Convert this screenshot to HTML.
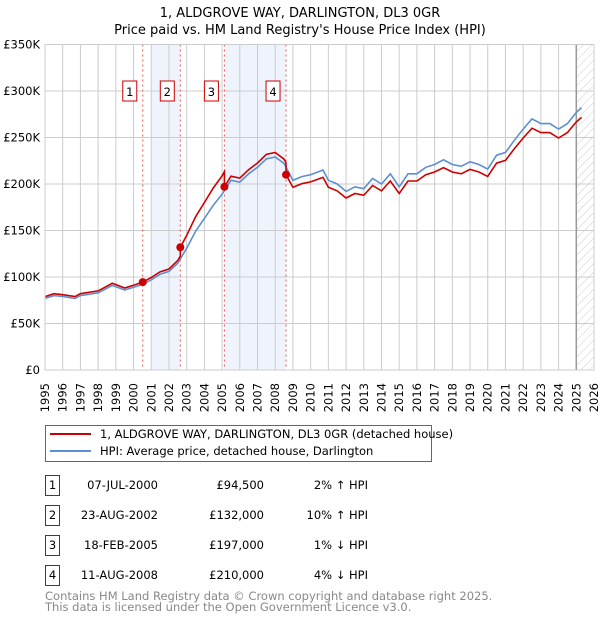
<!DOCTYPE html>
<html><head><meta charset="utf-8"><style>
body{margin:0;background:#fff;font-family:"Liberation Sans","DejaVu Sans",sans-serif;}
svg text{font-family:"DejaVu Sans","Liberation Sans",sans-serif;}
</style></head><body>
<svg id="chart" width="600" height="620" xmlns="http://www.w3.org/2000/svg">
<text x="300" y="17" text-anchor="middle" font-size="13">1, ALDGROVE WAY, DARLINGTON, DL3 0GR</text>
<text x="300" y="34" text-anchor="middle" font-size="13">Price paid vs. HM Land Registry's House Price Index (HPI)</text>
<g id="plot"></g>
<g>
<rect x="45.5" y="425.5" width="386" height="36" fill="#fff" stroke="#666"/>
<line x1="50" y1="434" x2="91" y2="434" stroke="#cc0000" stroke-width="2"/>
<text x="100" y="438" font-size="11.5">1, ALDGROVE WAY, DARLINGTON, DL3 0GR (detached house)</text>
<line x1="50" y1="451" x2="91" y2="451" stroke="#5b8fd4" stroke-width="2"/>
<text x="100" y="455" font-size="11.5">HPI: Average price, detached house, Darlington</text>
</g>
<g id="table" font-size="11.5"></g>
<text x="45" y="600" font-size="11.5" fill="#888">Contains HM Land Registry data © Crown copyright and database right 2025.</text>
<text x="45" y="611" font-size="11.5" fill="#888">This data is licensed under the Open Government Licence v3.0.</text>
</svg>
<script>
const hpiYears=[1995,1995.5,1996,1996.7,1997,1998,1998.8,1999.5,2000,2000.5,2001,2001.5,2002,2002.5,2003,2003.5,2004,2004.5,2005,2005.5,2006,2006.5,2007,2007.5,2008,2008.5,2009,2009.5,2010,2010.7,2011,2011.5,2012,2012.5,2013,2013.5,2014,2014.5,2015,2015.5,2016,2016.5,2017,2017.5,2018,2018.5,2019,2019.5,2020,2020.5,2021,2021.5,2022,2022.5,2023,2023.5,2024,2024.5,2025,2025.3];
const hpiValues=[77,80,79,77,80,83,91,86,89,92,97,103,106,115,131,149,163,177,189,204,202,211,218,227,229,222,204,208,210,215,204,200,192,197,195,206,200,211,197,211,211,218,221,226,221,219,224,221,216,231,234,247,259,270,265,265,259,265,277,282];
const saleYears=[2000.52,2002.64,2005.13,2008.61];
const salePrices=[94500,132000,197000,210000];
const saleDates=["07-JUL-2000","23-AUG-2002","18-FEB-2005","11-AUG-2008"];
const salePct=["2% \u2191 HPI","10% \u2191 HPI","1% \u2193 HPI","4% \u2193 HPI"];
const yTicks=[0,50000,100000,150000,200000,250000,300000,350000];
const yTickLabels=["£0","£50K","£100K","£150K","£200K","£250K","£300K","£350K"];
const NS="http://www.w3.org/2000/svg";
const X0=45,X1=594,Y0=370,Y1=44.5,YR0=1995,YR1=2026,VMAX=350000;
const xs=y=>X0+(y-YR0)/(YR1-YR0)*(X1-X0);
const ys=v=>Y0-v/VMAX*(Y0-Y1);
const plot=document.getElementById('plot');
function mk(tag,attrs,parent){const e=document.createElementNS(NS,tag);for(const k in attrs)e.setAttribute(k,attrs[k]);(parent||plot).appendChild(e);return e;}
function hpiAt(t){for(let i=0;i<hpiYears.length-1;i++){if(t<=hpiYears[i+1]){const f=(t-hpiYears[i])/(hpiYears[i+1]-hpiYears[i]);return (hpiValues[i]+f*(hpiValues[i+1]-hpiValues[i]))*1000;}}return hpiValues[hpiValues.length-1]*1000;}
// shaded spans
const s1=mk('rect',{x:xs(2001),y:Y1,width:xs(saleYears[1])-xs(2001),height:Y0-Y1,fill:'#eef3fc'});


const s2=mk('rect',{x:xs(saleYears[2]),y:Y1,width:xs(saleYears[3])-xs(saleYears[2]),height:Y0-Y1,fill:'#eef3fc'});


// hatched future
const defs=mk('defs',{});
const pat=mk('pattern',{id:'hatch',width:6,height:6,patternUnits:'userSpaceOnUse',patternTransform:'rotate(45)'},defs);
mk('line',{x1:0,y1:0,x2:0,y2:6,stroke:'#ccc','stroke-width':1},pat);
const fut=mk('rect',{x:xs(2025),y:Y1,width:X1-xs(2025),height:Y0-Y1,fill:'url(#hatch)'});


// grid
for(let y=YR0;y<=YR1;y++){
  const g=mk('line',{x1:xs(y),y1:Y1,x2:xs(y),y2:Y0,stroke:'#cccccc','stroke-width':1});
  
  
  const t=mk('text',{x:0,y:0,transform:`translate(${xs(y)+4},383) rotate(-90)`,'text-anchor':'end','font-size':11.5});
  t.textContent=y;
  
  
}
yTicks.forEach((v,i)=>{
  const g=mk('line',{x1:X0,y1:ys(v),x2:X1,y2:ys(v),stroke:'#cccccc','stroke-width':1});
  
  
  const t=mk('text',{x:40,y:ys(v)+4,'text-anchor':'end','font-size':11.5});
  t.textContent=yTickLabels[i];
  
  
});
const cur=mk('line',{x1:xs(2025),y1:Y1,x2:xs(2025),y2:Y0,stroke:'#999','stroke-width':1.5});


// sale markers lines
saleYears.forEach((s,i)=>{
  const l=mk('line',{x1:xs(s),y1:Y1,x2:xs(s),y2:Y0,stroke:'#ee5555','stroke-width':1,'stroke-dasharray':'2,3'});
  
  
  const b=mk('rect',{x:xs(s)-20,y:81,width:14,height:20,fill:'#fff',stroke:'#cc0000'});
  
  
  const t=mk('text',{x:xs(s)-13,y:96,'text-anchor':'middle','font-size':11.5});
  t.textContent=i+1;
  
  
});
// HPI line
let dH='';hpiYears.forEach((y,i)=>{dH+=(i?'L':'M')+xs(y).toFixed(1)+','+ys(hpiValues[i]*1000).toFixed(1);});
const hl=mk('path',{d:dH,fill:'none',stroke:'#5b8fd4','stroke-width':1.6});


// property line: indexed from last sale
function ratioAt(t){let k=0;for(let i=0;i<saleYears.length;i++)if(t>=saleYears[i])k=i;return salePrices[k]/hpiAt(saleYears[k]);}
let pts=[];
const allT=hpiYears.concat(saleYears.flatMap(s=>[s-0.0001,s])).sort((a,b)=>a-b);
allT.forEach(t=>pts.push([xs(t),ys(hpiAt(t)*ratioAt(t))]));
const pl=mk('path',{d:pts.map((p,i)=>(i?'L':'M')+p[0].toFixed(1)+','+p[1].toFixed(1)).join(''),fill:'none',stroke:'#cc0000','stroke-width':1.6});


saleYears.forEach((s,i)=>{
  const c=mk('circle',{cx:xs(s),cy:ys(salePrices[i]),r:4,fill:'#cc0000'});
  
  
});
const fr=mk('rect',{x:X0,y:Y1,width:X1-X0,height:Y0-Y1,fill:'none',stroke:'#cccccc'});


// table
const tb=document.getElementById('table');
const rowY=[485,515,545,575];
saleYears.forEach((s,i)=>{
  const b=mk('rect',{x:45.5,y:rowY[i]-9.5,width:14,height:20,fill:'#fff',stroke:'#cc0000'},tb);
  
  
  const cells=[[52.5,'middle',String(i+1)],[158,'end',saleDates[i]],[264,'end','£'+salePrices[i].toLocaleString('en-GB')],[368,'end',salePct[i]]];
  const names=['table-index','table-date','table-price','table-hpi-diff'];
  cells.forEach((c,j)=>{
    const t=mk('text',{x:c[0],y:rowY[i]+4,'text-anchor':c[1]},tb);
    t.textContent=c[2];
    
    
  });
});
</script>
</body></html>
